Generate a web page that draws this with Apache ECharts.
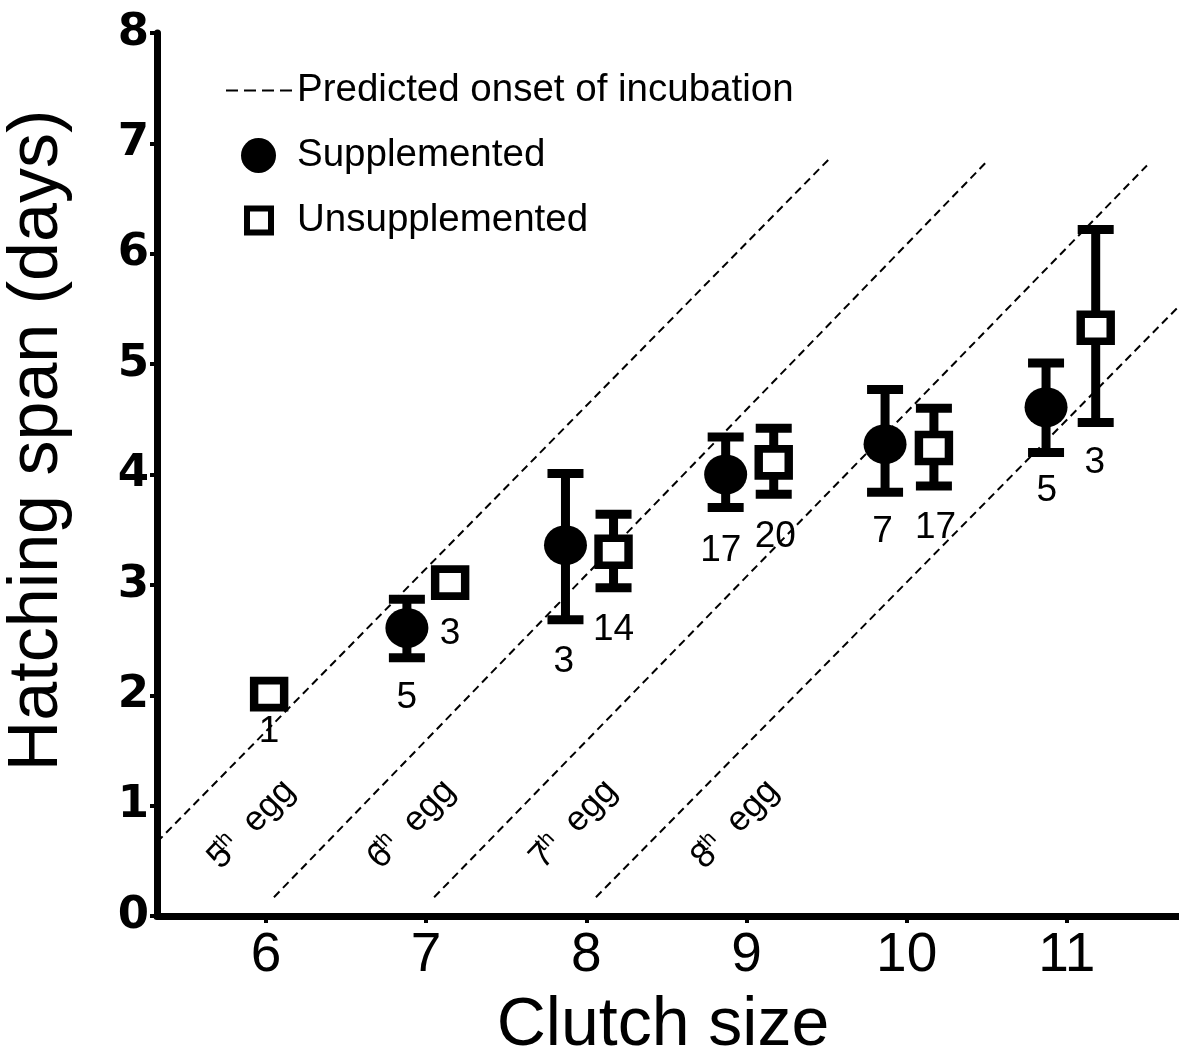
<!DOCTYPE html>
<html><head><meta charset="utf-8">
<script src="https://cdn.jsdelivr.net/npm/echarts@6/dist/echarts.min.js"></script>
<style>html,body{margin:0;padding:0;background:#fff}#c{width:1179px;height:1058px}</style>
</head><body><div id="c"></div>
<script>
// ---- data ----
const xTicks = [6, 7, 8, 9, 10, 11];

// Supplemented (filled circles), plotted slightly left of each clutch size
const supX    = [6.88, 7.87, 8.87, 9.865, 10.87];
const supMean = [2.61, 3.36, 4.00, 4.275, 4.61];
const supLow  = [2.34, 2.685, 3.70, 3.84, 4.20];
const supHigh = [2.87, 4.01, 4.34, 4.77, 5.01];

// Unsupplemented (open squares), plotted slightly right
const unsX    = [6.02, 7.15, 8.17, 9.17, 10.17, 11.18];
const unsMean = [2.01, 3.02, 3.30, 4.11, 4.24, 5.33];
const unsLow  = [null, null, 2.975, 3.82, 3.895, 4.47];
const unsHigh = [null, null, 3.64, 4.42, 4.60, 6.22];

// sample sizes (n) and where they are written
const nText = ['1', '5', '3', '3', '14', '17', '20', '7', '17', '5', '3'];
const nX    = [6.02, 6.88, 7.15, 7.86, 8.17, 8.84, 9.18, 9.85, 10.18, 10.875, 11.175];
const nY    = [1.67, 1.98, 2.56, 2.30, 2.59, 3.31, 3.44, 3.48, 3.52, 3.85, 4.11];

// predicted onset of incubation lines (start / end points)
const eggNames = ['5', '6', '7', '8'];
const lineX0 = [5.32, 6.05, 7.05, 8.06];
const lineY0 = [0.67, 0.17, 0.17, 0.17];
const lineX1 = [9.51, 10.51, 11.50, 11.69];
const lineY1 = [6.85, 6.85, 6.80, 5.51];
const eggLabX = [5.91, 6.91, 7.92, 8.93];
const eggLabY = [0.83, 0.83, 0.83, 0.83];

const SANS = "'Liberation Sans', Arial, sans-serif";
const LINE_NAME = 'Predicted onset of incubation';

const chart = echarts.init(document.getElementById('c'), null, {renderer: 'canvas'});

function errBars(xs, lo, hi) {
  const d = [];
  xs.forEach((x, i) => { if (lo[i] != null) d.push([x, lo[i], hi[i]]); });
  return {
    type: 'custom', silent: true, z: 3,
    data: d,
    renderItem: function (params, api) {
      const x = api.value(0);
      const pLo = api.coord([x, api.value(1)]);
      const pHi = api.coord([x, api.value(2)]);
      const cap = 18;
      const st = {stroke: '#000', lineWidth: 9};
      return {type: 'group', children: [
        {type: 'line', shape: {x1: pLo[0], y1: pLo[1], x2: pHi[0], y2: pHi[1]}, style: st},
        {type: 'line', shape: {x1: pLo[0] - cap, y1: pLo[1], x2: pLo[0] + cap, y2: pLo[1]}, style: st},
        {type: 'line', shape: {x1: pHi[0] - cap, y1: pHi[1], x2: pHi[0] + cap, y2: pHi[1]}, style: st}
      ]};
    }
  };
}

const series = [];
eggNames.forEach((e, i) => {
  series.push({
    name: LINE_NAME, type: 'line', symbol: 'none', silent: true, z: 1,
    data: [[lineX0[i], lineY0[i]], [lineX1[i], lineY1[i]]],
    itemStyle: {color: '#000'},
    lineStyle: {color: '#000', width: 2, type: [8, 5]}
  });
});
// egg labels
series.push({
  type: 'scatter', silent: true, symbolSize: 0, z: 2,
  itemStyle: {opacity: 1},
  data: eggNames.map((e, i) => ({value: [eggLabX[i], eggLabY[i]], name: e})),
  label: {
    show: true, position: 'inside', rotate: 46, color: '#000', opacity: 1,
    formatter: p => '{n|' + p.name + '}{s|th}{g|  egg}',
    rich: {
      n: {fontFamily: SANS, fontSize: 35, color: '#000'},
      s: {fontFamily: SANS, fontSize: 21, color: '#000', verticalAlign: 'top', padding: [0, 0, 17, -6]},
      g: {fontFamily: SANS, fontSize: 35, color: '#000'}
    }
  }
});
series.push(errBars(supX, supLow, supHigh));
series.push(errBars(unsX, unsLow, unsHigh));
series.push({
  name: 'Supplemented', type: 'scatter', z: 4, silent: true,
  symbol: 'circle', symbolSize: [43, 40],
  data: supX.map((x, i) => [x, supMean[i]]),
  itemStyle: {color: '#000', opacity: 1}
});
series.push({
  name: 'Unsupplemented', type: 'scatter', z: 4, silent: true,
  symbol: 'rect', symbolSize: [30, 27],
  data: unsX.map((x, i) => [x, unsMean[i]]),
  itemStyle: {color: '#fff', borderColor: '#000', borderWidth: 8, opacity: 1}
});
// n labels
series.push({
  type: 'scatter', silent: true, symbolSize: 0, z: 5,
  itemStyle: {opacity: 1},
  data: nX.map((x, i) => ({value: [x, nY[i]], name: nText[i]})),
  label: {
    show: true, position: 'inside', formatter: p => p.name, opacity: 1,
    fontFamily: SANS, fontSize: 37, color: '#000'
  }
});

const legText = {fontFamily: SANS, fontSize: 38.5, color: '#000'};
chart.setOption({
  animation: false,
  backgroundColor: '#fff',
  grid: {left: 157, right: 0, top: 33, bottom: 142, containLabel: false, outerBoundsMode: 'none'},
  legend: [
    {
      data: [{name: LINE_NAME, itemStyle: {opacity: 0, color: 'rgba(0,0,0,0)', borderWidth: 0},
              lineStyle: {color: '#000', width: 2, type: [12, 6]}}],
      left: 220, top: 66, orient: 'vertical',
      itemWidth: 70, itemHeight: 40, selectedMode: false,
      textStyle: Object.assign({padding: [0, 0, 0, -4]}, legText)
    },
    {
      data: [{name: 'Supplemented', icon: 'circle', itemStyle: {color: '#000'}}],
      left: 236, top: 131, orient: 'vertical',
      itemWidth: 35, itemHeight: 35, selectedMode: false,
      textStyle: Object.assign({padding: [0, 0, 0, 16]}, legText)
    },
    {
      data: [{name: 'Unsupplemented', icon: 'rect', itemStyle: {color: '#fff', borderColor: '#000', borderWidth: 6}}],
      left: 239, top: 196, orient: 'vertical',
      itemWidth: 24, itemHeight: 24, selectedMode: false,
      textStyle: Object.assign({padding: [0, 0, 0, 21]}, legText)
    }
  ],
  xAxis: {
    type: 'value', min: 5.32, max: 11.7,
    axisLine: {show: true, onZero: false, lineStyle: {color: '#000', width: 7}},
    axisTick: {show: true, customValues: xTicks, length: 7, lineStyle: {color: '#000', width: 4}},
    axisLabel: {customValues: xTicks, color: '#000', fontFamily: SANS, fontSize: 55, margin: 12},
    splitLine: {show: false},
    name: 'Clutch size', nameLocation: 'middle', nameGap: 76,
    nameTextStyle: {fontFamily: SANS, fontSize: 68, color: '#000', padding: [0, 10, 0, 0]}
  },
  yAxis: {
    type: 'value', min: 0, max: 8, interval: 1,
    axisLine: {show: true, onZero: false, lineStyle: {color: '#000', width: 7}},
    axisTick: {show: true, length: 7, lineStyle: {color: '#000', width: 4}},
    axisLabel: {color: '#000', fontFamily: "'DejaVu Sans', sans-serif", fontWeight: 'bold', fontSize: 45, margin: 8},
    splitLine: {show: false},
    name: 'Hatching span (days)', nameLocation: 'middle', nameGap: 84,
    nameTextStyle: {fontFamily: SANS, fontSize: 70, color: '#000', padding: [0, 0, 0, 68]}
  },
  series: series
});
</script>
</body></html>
